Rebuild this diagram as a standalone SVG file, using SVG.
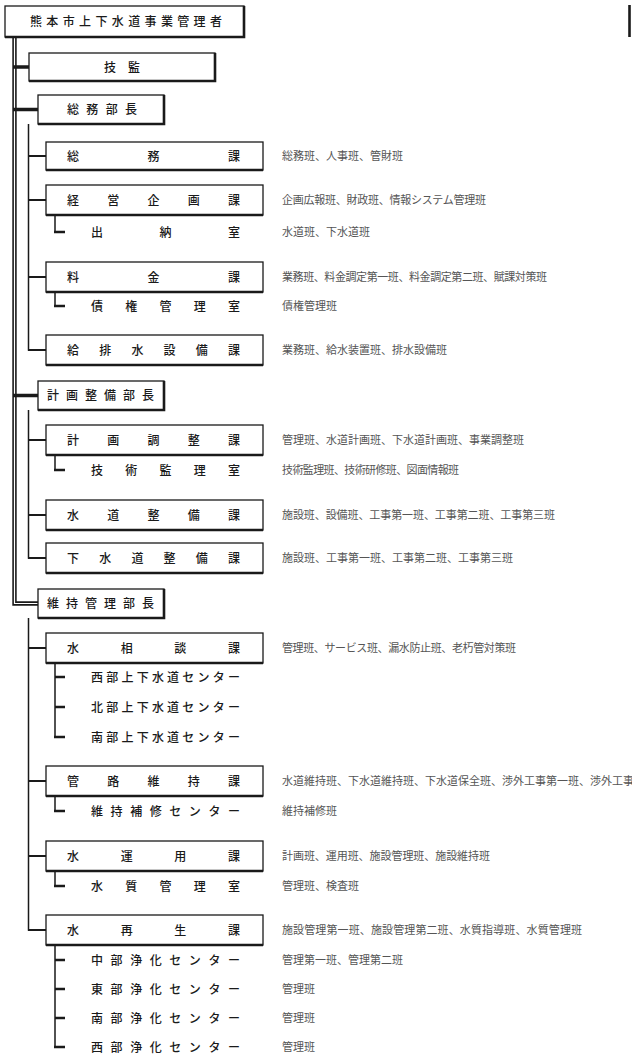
<svg xmlns="http://www.w3.org/2000/svg" width="632" height="1057" viewBox="0 0 632 1057">
<style>
.box{fill:#fff;stroke:#1a1a1a;stroke-width:1.3}
.shd{fill:none;stroke:#1a1a1a;stroke-width:2.6}
.trunk{fill:none;stroke:#1a1a1a;stroke-width:4.4}
.trunkin{fill:none;stroke:#fff;stroke-width:1.2}
.thick{fill:none;stroke:#1a1a1a;stroke-width:3.6}
.sub{fill:none;stroke:#1a1a1a;stroke-width:1.5}
.con{fill:none;stroke:#1a1a1a;stroke-width:2.2}
.tick{fill:none;stroke:#1a1a1a;stroke-width:2.6}
.lbl{font-family:"Noto Sans CJK JP",sans-serif;font-size:12px;font-weight:500;fill:#1a1a1a}
.lst{font-family:"Noto Sans CJK JP",sans-serif;font-size:11px;fill:#555}
</style>
<rect width="632" height="1057" fill="#fff"/>
<g id="connectors">
<path class="trunk" d="M14.5 37 V603.5 H38"/>
<path class="trunkin" d="M14.5 37 V603.5 H38"/>
<path class="thick" d="M13 67 H29 M13 109.5 H38 M13 395.5 H38"/>
<path class="sub" d="M28.5 124 V350 H46 M28.5 410 V558 H46 M28.5 618 V930 H46"/>
<path class="con" d="M28.5 156 H46 M28.5 200 H46 M28.5 277 H46 M28 350 H46 M28.5 440 H46 M28.5 515 H46 M28 558 H46 M28.5 648 H46 M28.5 781 H46 M28.5 856 H46 M28 930 H46"/>
<path class="sub" d="M55 215 V232 M55 292 V306 M55 455 V470 M55 663 V737 M55 796 V811 M55 871 V886 M55 945 V1047"/>
<path class="tick" d="M54 232 H65 M54 306 H65 M54 470 H65 M55 677 H65 M55 707 H65 M54 737 H65 M54 811 H65 M54 886 H65 M55 960 H65 M55 989 H65 M55 1018 H65 M54 1047 H65"/>
<path d="M629.5 5 V37" stroke="#1a1a1a" stroke-width="2.6" fill="none"/>
</g>
<g id="n-kanrisha">
<rect class="box" x="5" y="6" width="239" height="31"/>
<path class="shd" d="M5 37 H244 V6"/>
<text class="lbl" x="30" y="26" textLength="192" lengthAdjust="spacing">熊本市上下水道事業管理者</text>
</g>
<g id="n-gikan">
<rect class="box" x="29" y="53" width="186" height="28"/>
<path class="shd" d="M29 81 H215 V53"/>
<text class="lbl" x="104" y="71.5" textLength="36" lengthAdjust="spacing">技監</text>
</g>
<g id="n-somubucho">
<rect class="box" x="38" y="95" width="126" height="29"/>
<path class="shd" d="M38 124 H164 V95"/>
<text class="lbl" x="67" y="114" textLength="70" lengthAdjust="spacing">総務部長</text>
</g>
<g id="n-somuka">
<rect class="box" x="46" y="142" width="217" height="28"/>
<path class="shd" d="M46 170 H263"/>
<text class="lbl" x="67" y="160.5" textLength="173" lengthAdjust="spacing">総務課</text>
<text class="lst" x="282" y="160">総務班、人事班、管財班</text>
</g>
<g id="n-keiei">
<rect class="box" x="46" y="185" width="217" height="30"/>
<path class="shd" d="M46 215 H263"/>
<text class="lbl" x="67" y="204.5" textLength="173" lengthAdjust="spacing">経営企画課</text>
<text class="lst" x="282" y="204" textLength="204" lengthAdjust="spacing">企画広報班、財政班、情報システム管理班</text>
</g>
<g id="n-suitou">
<text class="lbl" x="91" y="236.5" textLength="149" lengthAdjust="spacing">出納室</text>
<text class="lst" x="282" y="236">水道班、下水道班</text>
</g>
<g id="n-ryokin">
<rect class="box" x="46" y="262" width="217" height="30"/>
<path class="shd" d="M46 292 H263"/>
<text class="lbl" x="67" y="281.5" textLength="173" lengthAdjust="spacing">料金課</text>
<text class="lst" x="282" y="281" textLength="265" lengthAdjust="spacing">業務班、料金調定第一班、料金調定第二班、賦課対策班</text>
</g>
<g id="n-saiken">
<text class="lbl" x="91" y="310.5" textLength="149" lengthAdjust="spacing">債権管理室</text>
<text class="lst" x="282" y="310">債権管理班</text>
</g>
<g id="n-kyuhaisui">
<rect class="box" x="46" y="335" width="217" height="30"/>
<path class="shd" d="M46 365 H263"/>
<text class="lbl" x="67" y="354.5" textLength="173" lengthAdjust="spacing">給排水設備課</text>
<text class="lst" x="282" y="354" textLength="165" lengthAdjust="spacing">業務班、給水装置班、排水設備班</text>
</g>
<g id="n-keikakubucho">
<rect class="box" x="38" y="381" width="126" height="29"/>
<path class="shd" d="M38 410 H164 V381"/>
<text class="lbl" x="47" y="400" textLength="107" lengthAdjust="spacing">計画整備部長</text>
</g>
<g id="n-keikakuchosei">
<rect class="box" x="46" y="425" width="217" height="30"/>
<path class="shd" d="M46 455 H263"/>
<text class="lbl" x="67" y="444.5" textLength="173" lengthAdjust="spacing">計画調整課</text>
<text class="lst" x="282" y="444" textLength="242" lengthAdjust="spacing">管理班、水道計画班、下水道計画班、事業調整班</text>
</g>
<g id="n-gijutsu">
<text class="lbl" x="91" y="474.5" textLength="149" lengthAdjust="spacing">技術監理室</text>
<text class="lst" x="282" y="474" textLength="177" lengthAdjust="spacing">技術監理班、技術研修班、図面情報班</text>
</g>
<g id="n-suidoseibi">
<rect class="box" x="46" y="500" width="217" height="30"/>
<path class="shd" d="M46 530 H263"/>
<text class="lbl" x="67" y="519.5" textLength="173" lengthAdjust="spacing">水道整備課</text>
<text class="lst" x="282" y="519" textLength="273" lengthAdjust="spacing">施設班、設備班、工事第一班、工事第二班、工事第三班</text>
</g>
<g id="n-gesuidoseibi">
<rect class="box" x="46" y="543" width="217" height="30"/>
<path class="shd" d="M46 573 H263"/>
<text class="lbl" x="67" y="562.5" textLength="173" lengthAdjust="spacing">下水道整備課</text>
<text class="lst" x="282" y="562" textLength="231" lengthAdjust="spacing">施設班、工事第一班、工事第二班、工事第三班</text>
</g>
<g id="n-ijibucho">
<rect class="box" x="38" y="589" width="126" height="29"/>
<path class="shd" d="M38 618 H164 V589"/>
<text class="lbl" x="47" y="608" textLength="107" lengthAdjust="spacing">維持管理部長</text>
</g>
<g id="n-mizusodan">
<rect class="box" x="46" y="633" width="217" height="30"/>
<path class="shd" d="M46 663 H263"/>
<text class="lbl" x="67" y="652.5" textLength="173" lengthAdjust="spacing">水相談課</text>
<text class="lst" x="282" y="652" textLength="234" lengthAdjust="spacing">管理班、サービス班、漏水防止班、老朽管対策班</text>
</g>
<g id="n-seibu-c">
<text class="lbl" x="91" y="681.5" textLength="149" lengthAdjust="spacing">西部上下水道センター</text>
</g>
<g id="n-hokubu-c">
<text class="lbl" x="91" y="711.5" textLength="149" lengthAdjust="spacing">北部上下水道センター</text>
</g>
<g id="n-nanbu-c">
<text class="lbl" x="91" y="741.5" textLength="149" lengthAdjust="spacing">南部上下水道センター</text>
</g>
<g id="n-kanro">
<rect class="box" x="46" y="766" width="217" height="30"/>
<path class="shd" d="M46 796 H263"/>
<text class="lbl" x="67" y="785.5" textLength="173" lengthAdjust="spacing">管路維持課</text>
<text class="lst" x="282" y="785" textLength="352" lengthAdjust="spacing">水道維持班、下水道維持班、下水道保全班、渉外工事第一班、渉外工事</text>
</g>
<g id="n-ijihoshu">
<text class="lbl" x="91" y="815.5" textLength="149" lengthAdjust="spacing">維持補修センター</text>
<text class="lst" x="282" y="815">維持補修班</text>
</g>
<g id="n-mizuunyo">
<rect class="box" x="46" y="841" width="217" height="30"/>
<path class="shd" d="M46 871 H263"/>
<text class="lbl" x="67" y="860.5" textLength="173" lengthAdjust="spacing">水運用課</text>
<text class="lst" x="282" y="860" textLength="208" lengthAdjust="spacing">計画班、運用班、施設管理班、施設維持班</text>
</g>
<g id="n-suishitsu">
<text class="lbl" x="91" y="890.5" textLength="149" lengthAdjust="spacing">水質管理室</text>
<text class="lst" x="282" y="890">管理班、検査班</text>
</g>
<g id="n-mizusaisei">
<rect class="box" x="46" y="915" width="217" height="30"/>
<path class="shd" d="M46 945 H263"/>
<text class="lbl" x="67" y="934.5" textLength="173" lengthAdjust="spacing">水再生課</text>
<text class="lst" x="282" y="934" textLength="300" lengthAdjust="spacing">施設管理第一班、施設管理第二班、水質指導班、水質管理班</text>
</g>
<g id="n-chubu-j">
<text class="lbl" x="91" y="964.5" textLength="149" lengthAdjust="spacing">中部浄化センター</text>
<text class="lst" x="282" y="964">管理第一班、管理第二班</text>
</g>
<g id="n-tobu-j">
<text class="lbl" x="91" y="993.5" textLength="149" lengthAdjust="spacing">東部浄化センター</text>
<text class="lst" x="282" y="993">管理班</text>
</g>
<g id="n-nanbu-j">
<text class="lbl" x="91" y="1022.5" textLength="149" lengthAdjust="spacing">南部浄化センター</text>
<text class="lst" x="282" y="1022">管理班</text>
</g>
<g id="n-seibu-j">
<text class="lbl" x="91" y="1051.5" textLength="149" lengthAdjust="spacing">西部浄化センター</text>
<text class="lst" x="282" y="1051">管理班</text>
</g>
</svg>
